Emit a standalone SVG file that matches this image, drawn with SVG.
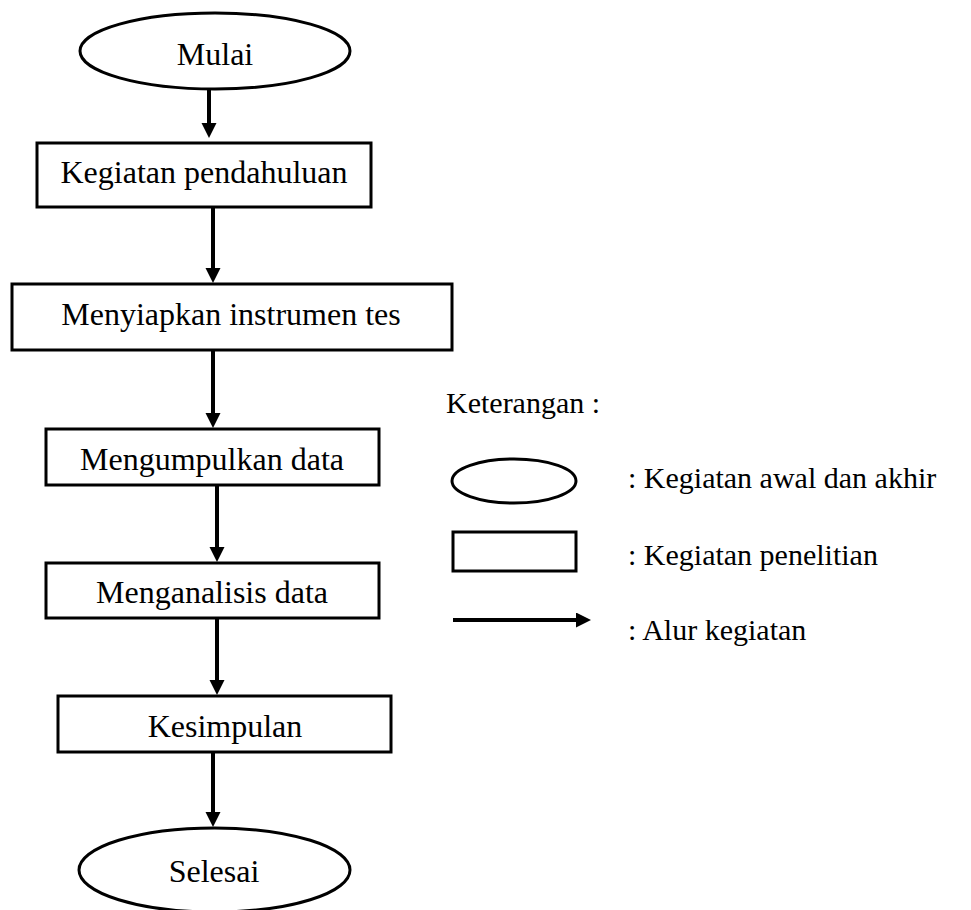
<svg xmlns="http://www.w3.org/2000/svg" width="971" height="910" viewBox="0 0 971 910">
<style>
.shape{fill:#fff;stroke:#000;stroke-width:3}
.lbl{font-family:"Liberation Serif","Times New Roman",serif;font-size:32px;fill:#000;text-anchor:middle}
.leg{font-family:"Liberation Serif","Times New Roman",serif;font-size:30px;fill:#000}
.conn{stroke:#000;stroke-width:4;fill:none;marker-end:url(#ah)}
</style>
<defs>
<marker id="ah" markerUnits="userSpaceOnUse" markerWidth="16" markerHeight="16" refX="0" refY="7.5" orient="auto">
<path d="M0,0 L15,7.5 L0,15 z" fill="#000"/>
</marker>
</defs>
<rect width="971" height="910" fill="#fff"/>
<g id="connectors">
<line class="conn" x1="209" y1="89" x2="209" y2="123"/>
<line class="conn" x1="213" y1="207" x2="213" y2="268"/>
<line class="conn" x1="213" y1="350" x2="213" y2="413"/>
<line class="conn" x1="217" y1="485" x2="217" y2="547"/>
<line class="conn" x1="217" y1="618" x2="217" y2="680"/>
<line class="conn" x1="213" y1="752" x2="213" y2="812"/>
</g>
<g id="mulai">
<ellipse class="shape" cx="215" cy="51" rx="135" ry="38"/>
<text class="lbl" x="215" y="65">Mulai</text>
</g>
<g id="pendahuluan">
<rect class="shape" x="37" y="143" width="334" height="64"/>
<text class="lbl" x="204" y="183">Kegiatan pendahuluan</text>
</g>
<g id="instrumen">
<rect class="shape" x="12" y="284" width="440" height="66"/>
<text class="lbl" x="231" y="325">Menyiapkan instrumen tes</text>
</g>
<g id="mengumpulkan">
<rect class="shape" x="46" y="429" width="333" height="56"/>
<text class="lbl" x="212" y="470">Mengumpulkan data</text>
</g>
<g id="menganalisis">
<rect class="shape" x="46" y="563" width="333" height="55"/>
<text class="lbl" x="212" y="603">Menganalisis data</text>
</g>
<g id="kesimpulan">
<rect class="shape" x="58" y="696" width="333" height="56"/>
<text class="lbl" x="225" y="737">Kesimpulan</text>
</g>
<g id="selesai">
<ellipse class="shape" cx="214.5" cy="870" rx="135.5" ry="42"/>
<text class="lbl" x="214" y="882">Selesai</text>
</g>
<g id="legend">
<text class="leg" x="446" y="413">Keterangan :</text>
<ellipse class="shape" cx="514" cy="481" rx="62" ry="22"/>
<text class="leg" x="628" y="488">: Kegiatan awal dan akhir</text>
<rect class="shape" x="453" y="532" width="123" height="39"/>
<text class="leg" x="628" y="565">: Kegiatan penelitian</text>
<line class="conn" x1="453" y1="620" x2="576" y2="620"/>
<text class="leg" x="628" y="640">: Alur kegiatan</text>
</g>
</svg>
